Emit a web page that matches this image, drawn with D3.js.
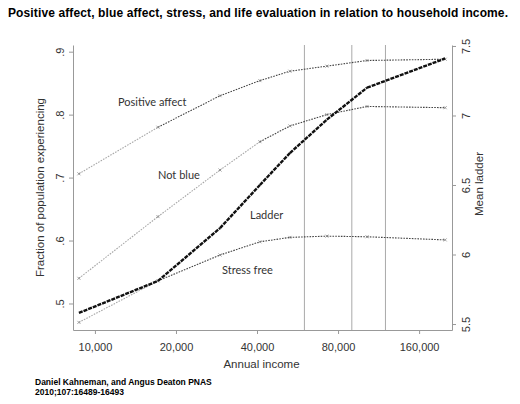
<!DOCTYPE html>
<html>
<head>
<meta charset="utf-8">
<script src="https://cdn.jsdelivr.net/npm/d3@7"></script>
<style>
body { margin: 0; background: #fff; }
svg { display: block; }
.tick text { font-family: "Liberation Sans", Arial, sans-serif; font-size: 11px; fill: #333; }
.lbl { font-family: Lato, "Open Sans", sans-serif; font-size: 11px; fill: #333; }
</style>
</head>
<body>
<svg id="chart" width="520" height="404"></svg>
<script>
// income groups (x) and values
let incomes = [8720, 17150, 29150, 41000, 53000, 72700, 102500, 200000];
let positive_affect = [0.706, 0.780, 0.830, 0.854, 0.869, 0.877, 0.886, 0.888];
let not_blue = [0.540, 0.638, 0.712, 0.757, 0.782, 0.800, 0.813, 0.811];
let stress_free = [0.470, 0.536, 0.577, 0.598, 0.605, 0.607, 0.606, 0.601];
let ladder = [5.58, 5.81, 6.19, 6.50, 6.73, 6.97, 7.20, 7.41];

let x_ticks = [10000, 20000, 40000, 80000, 160000];
let left_ticks = [0.5, 0.6, 0.7, 0.8, 0.9];
let right_ticks = [5.5, 6, 6.5, 7, 7.5];
let cut_lines = [60000, 90000, 120000];

let svg = d3.select("#chart");
let pLeft = 73, pRight = 452, pTop = 45, pBottom = 330;

let x = d3.scaleLog().domain([8290, 212000]).range([pLeft, pRight]);
let yL = d3.scaleLinear().domain([0.4579, 0.9106]).range([pBottom, pTop]);
let yR = d3.scaleLinear().domain([5.457, 7.507]).range([pBottom, pTop]);

// title
svg.append("text")
	.attr("x", 8).attr("y", 17)
	.attr("textLength", 500).attr("lengthAdjust", "spacing")
	.style("font-family", "Liberation Sans, Arial, sans-serif")
	.style("font-weight", "bold").style("font-size", "12px")
	.text("Positive affect, blue affect, stress, and life evaluation in relation to household income.");

// vertical reference lines
svg.selectAll(".cut").data(cut_lines).enter().append("line")
	.attr("class", "cut")
	.attr("x1", d => x(d)).attr("x2", d => x(d))
	.attr("y1", pTop).attr("y2", pBottom)
	.style("stroke", "#aaa").style("stroke-width", 1);

// axes
let axisColor = "#999";
let gx = svg.append("g").attr("transform", `translate(0,${pBottom})`)
	.call(d3.axisBottom(x).tickValues(x_ticks).tickFormat(d3.format(",")).tickSize(4).tickSizeOuter(0));
gx.selectAll(".tick text").attr("dy", "1.25em");

let gl = svg.append("g").attr("transform", `translate(${pLeft},0)`)
	.call(d3.axisLeft(yL).tickValues(left_ticks).tickFormat(d => d3.format(".1f")(d).replace("0.", ".")).tickSize(4).tickSizeOuter(0));
gl.selectAll(".tick text")
	.attr("x", 0).attr("dy", 0)
	.attr("transform", "translate(-9,0) rotate(-90)")
	.attr("text-anchor", "middle");

let gr = svg.append("g").attr("transform", `translate(${pRight},0)`)
	.call(d3.axisRight(yR).tickValues(right_ticks).tickFormat(d => d3.format("")(d)).tickSize(4).tickSizeOuter(0));
gr.selectAll(".tick text")
	.attr("x", 0).attr("dy", 0)
	.attr("transform", "translate(18,0) rotate(-90)")
	.attr("text-anchor", "middle");

[gx, gl, gr].forEach(g => {
	g.select(".domain").style("stroke", axisColor);
	g.selectAll(".tick line").style("stroke", axisColor);
});

// axis titles
let axisFont = "Liberation Sans, Arial, sans-serif";
svg.append("text")
	.attr("transform", `translate(44,${(pTop + pBottom) / 2}) rotate(-90)`)
	.attr("text-anchor", "middle")
	.style("font-family", axisFont).style("font-size", "11.5px").style("fill", "#333")
	.text("Fraction of population experiencing");
svg.append("text")
	.attr("transform", "translate(483,184) rotate(-90)")
	.attr("text-anchor", "middle")
	.style("font-family", axisFont).style("font-size", "11.5px").style("fill", "#333")
	.text("Mean ladder");
svg.append("text")
	.attr("x", (pLeft + pRight) / 2 - 1).attr("y", 368)
	.attr("text-anchor", "middle")
	.style("font-family", axisFont).style("font-size", "11.5px").style("fill", "#333")
	.text("Annual income");

// series
let series = [
	{name: "Positive affect", values: positive_affect, y: yL, faint: 1, lx: 118, ly: 106},
	{name: "Not blue", values: not_blue, y: yL, faint: 3, lx: 158, ly: 179},
	{name: "Stress free", values: stress_free, y: yL, faint: 1, lx: 222, ly: 274},
	{name: "Ladder", values: ladder, y: yR, faint: 0, lx: 250, ly: 219, thick: true}
];

series.forEach(s => {
	let pts = s.values.map((v, i) => [x(incomes[i]), s.y(v)]);
	let segs = d3.pairs(pts);
	svg.append("g").selectAll("line").data(segs).enter().append("line")
		.attr("x1", d => d[0][0]).attr("y1", d => d[0][1])
		.attr("x2", d => d[1][0]).attr("y2", d => d[1][1])
		.style("stroke", (d, i) => s.thick ? "#111" : (i < s.faint ? "#a8a8a8" : "#444"))
		.style("stroke-width", s.thick ? 2.4 : 1.1)
		.style("stroke-dasharray", s.thick ? "4,1" : "1.6,1.2");

	if (!s.thick) {
		svg.append("g").selectAll("path").data(pts).enter().append("path")
			.attr("d", d => `M${d[0]-1.5},${d[1]-1.5}L${d[0]+1.5},${d[1]+1.5}M${d[0]-1.5},${d[1]+1.5}L${d[0]+1.5},${d[1]-1.5}`)
			.style("stroke", "#888").style("stroke-width", 0.8);
	}

	svg.append("text").attr("class", "lbl")
		.attr("x", s.lx).attr("y", s.ly)
		.text(s.name);
});

// source
let src = ["Daniel Kahneman, and Angus Deaton PNAS", "2010;107:16489-16493"];
svg.selectAll(".src").data(src).enter().append("text")
	.attr("class", "src")
	.attr("x", 35).attr("y", (d, i) => 385 + i * 10)
	.style("font-family", axisFont).style("font-weight", "bold").style("font-size", "8.5px")
	.text(d => d);
</script>
</body>
</html>
